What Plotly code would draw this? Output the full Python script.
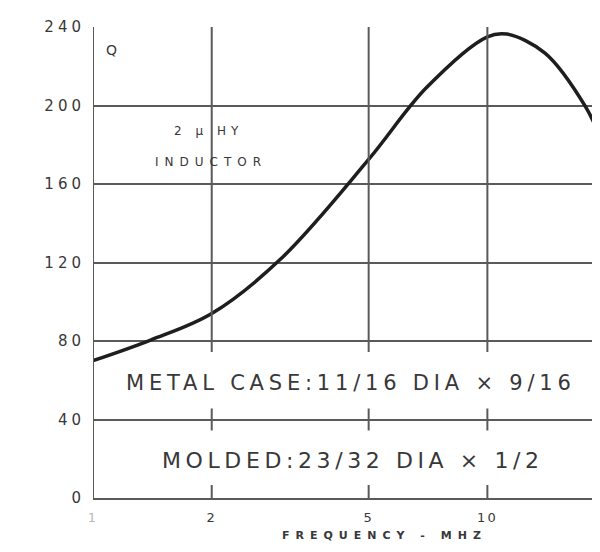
import math
import plotly.graph_objects as go

# ---- data ----
freq_mhz = [1.0, 1.4, 2.0, 3.0, 5.0, 7.0, 10.0, 11.2, 14.0, 17.7, 19.3]
q_values = [70.0, 80.5, 94.0, 122.0, 172.5, 209.0, 235.0, 236.4, 226.7, 199.7, 184.0]

y_ticks = [0, 40, 80, 120, 160, 200, 240]
x_ticks = [1, 2, 5, 10]
x_tick_labels = ['<span style="color:#b8b8b8">1</span>', "2", "5", "10"]
x_max = 19.3
vgrid_x = [2, 5, 10]

GRID = "#5a5a5a"
TXT = "#383838"
FONT = "DejaVu Sans"

# page body has an 8px margin; figure is sized so it fits the 600x552 window
OFF = 8
PL, PT, PB, PR = 93, 27, 498, 600          # plot area in window pixels
W, H = 600 - OFF, 536


def px(xa):
    return (xa - PL) / (PR - PL)


def py(ya):
    return (PB - ya) / (PB - PT)


def spaced(s, sp):
    return f'<span style="letter-spacing:{sp}px">{s}</span>'


fig = go.Figure()
fig.add_trace(go.Scatter(
    x=freq_mhz, y=q_values, mode="lines",
    line=dict(color="#1e1e1e", width=3.5, shape="spline", smoothing=1.0),
    hoverinfo="skip", showlegend=False,
))

shapes = []
for xv in vgrid_x:
    shapes.append(dict(type="line", xref="x", yref="y", x0=xv, x1=xv, y0=80, y1=242.5,
                       line=dict(color=GRID, width=2)))
    shapes.append(dict(type="line", xref="x", yref="y", ysizemode="pixel", yanchor=80,
                       x0=xv, x1=xv, y0=0, y1=-11, line=dict(color=GRID, width=2)))
    shapes.append(dict(type="line", xref="x", yref="y", ysizemode="pixel", yanchor=40,
                       x0=xv, x1=xv, y0=-11, y1=11, line=dict(color=GRID, width=2)))
    shapes.append(dict(type="line", xref="x", yref="y", ysizemode="pixel", yanchor=0,
                       x0=xv, x1=xv, y0=0, y1=13, line=dict(color=GRID, width=2)))
shapes.append(dict(type="line", xref="x", yref="y", x0=1, x1=1, y0=0, y1=242.5,
                   line=dict(color=GRID, width=2)))


def note(text, xa, ya, size, sp, bold=False, color=TXT, yanchor="middle"):
    t = f"<b>{text}</b>" if bold else text
    return dict(text=spaced(t, sp), x=px(xa), y=py(ya), xref="paper", yref="paper",
                xanchor="left", yanchor=yanchor, align="left", showarrow=False,
                font=dict(family=FONT, size=size, color=color))


annotations = [
    note("Q", 104, 50, 14, 1),
    note("2 μ HY", 172, 131, 12, 5),
    note("INDUCTOR", 153, 162, 12, 6),
    note("METAL CASE:11/16 DIA × 9/16", 124, 383, 21, 4.8),
    note("MOLDED:23/32 DIA × 1/2", 160, 460, 22, 4.6),
    note("FREQUENCY - MHZ", 280, 535.5, 11, 6, bold=True),
    note("20", 593, 517, 13, 3),
]

fig.update_layout(
    width=W, height=H,
    margin=dict(l=PL - OFF, r=0, t=PT - OFF, b=OFF + H - PB),
    paper_bgcolor="white", plot_bgcolor="white",
    shapes=shapes, annotations=annotations,
    xaxis=dict(type="log", range=[0, math.log10(x_max)], tickvals=x_ticks,
               ticktext=[spaced(t, 2) for t in x_tick_labels],
               showgrid=False, zeroline=False, showline=True, linecolor=GRID, linewidth=2,
               ticks="outside", ticklen=6, tickcolor="rgba(0,0,0,0)",
               tickfont=dict(family=FONT, size=13, color=TXT)),
    yaxis=dict(range=[0, 240], tickvals=y_ticks,
               ticktext=[spaced(str(v), 4) for v in y_ticks],
               showgrid=True, gridcolor=GRID, gridwidth=2, zeroline=False,
               showline=False, ticks="outside", ticklen=4, tickcolor="rgba(0,0,0,0)",
               tickfont=dict(family=FONT, size=15, color=TXT)),
)

fig.write_html("out.html")
